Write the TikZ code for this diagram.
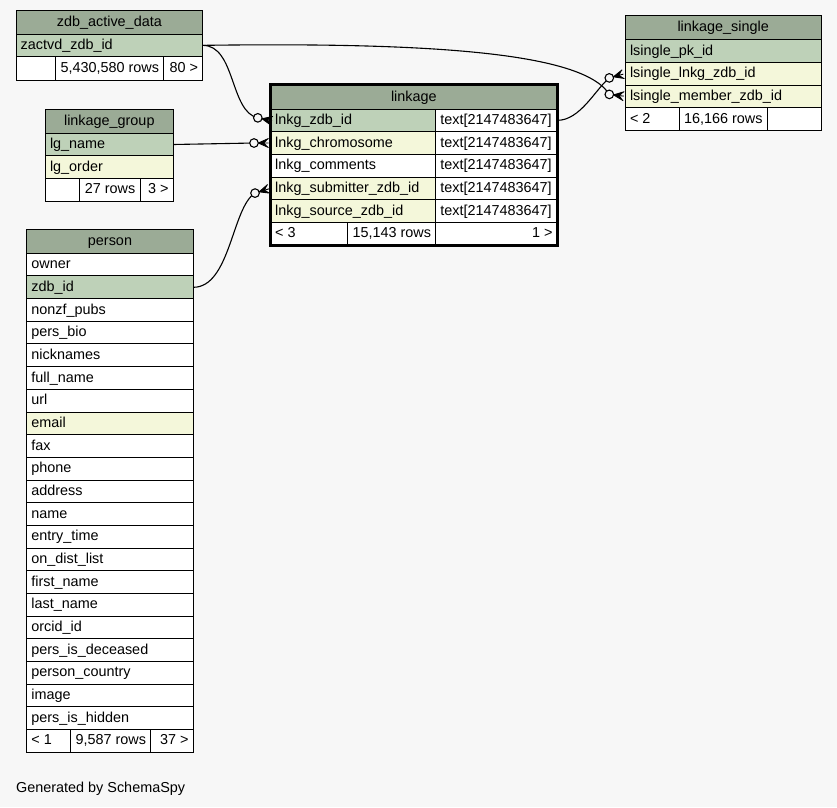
\documentclass[tikz,border=0pt]{standalone}
\usepackage{fontspec}
\setmainfont{Liberation Sans}
\usetikzlibrary{fit}
\definecolor{hdr}{HTML}{9BAB96}
\definecolor{pk}{HTML}{BED1B8}
\definecolor{idx}{HTML}{F4F7DA}
\definecolor{bg}{HTML}{F7F7F7}
\tikzset{
 cellbox/.style={draw=black, line width=1pt, inner sep=0pt, outer sep=0pt},
 txt/.style={font=\fontsize{14.4}{16}\selectfont, text height=10.2pt, text depth=2pt, inner sep=0pt},
 conn/.style={draw=black, line width=1.1pt},
}
\newcommand\cellL[7]{\node[cellbox,fill=#6,fit={(#2,#3)(#4,#5)}] (#1) {};
  \node[txt,anchor=west] at ([xshift=4.5pt]#1.west) {#7};}
\newcommand\cellC[7]{\node[cellbox,fill=#6,fit={(#2,#3)(#4,#5)}] (#1) {};
  \node[txt] at (#1.center) {#7};}
\newcommand\cellR[7]{\node[cellbox,fill=#6,fit={(#2,#3)(#4,#5)}] (#1) {};
  \node[txt,anchor=east] at ([xshift=-4.5pt]#1.east) {#7};}
\newcommand\crowend[3]{%
  \begin{scope}[shift={#2}, rotate=#3]
    \coordinate (#1) at (-14.5,0);
    \fill (-10.2,0) -- (0,4.5) -- (-4,0) -- (0,-4.5) -- cycle;
    \draw[line width=0.9pt] (-10.2,0) -- (0,0) (-10.2,0) -- (0,4.5) (-10.2,0) -- (0,-4.5);
  \end{scope}}
\begin{document}
\begin{tikzpicture}[x=1pt,y=-1pt]
\fill[bg] (0,0) rectangle (837,807);
\useasboundingbox (0,0) rectangle (837,807);

% zdb_active_data
\cellC{zadh}{16}{10.7}{202.7}{34}{hdr}{zdb\_active\_data}
\cellL{zad1}{16}{34}{202.7}{56.7}{pk}{zactvd\_zdb\_id}
\cellL{zadf1}{16}{56.7}{55.7}{80}{white}{}
\cellR{zadf2}{55.7}{56.7}{163.7}{80}{white}{5,430,580 rows}
\cellR{zadf3}{163.7}{56.7}{202.7}{80}{white}{80 >}

% linkage_group
\cellC{lgh}{45.3}{109}{173.3}{133.3}{hdr}{linkage\_group}
\cellL{lg1}{45.3}{133.3}{173.3}{155.7}{pk}{lg\_name}
\cellL{lg2}{45.3}{155.7}{173.3}{178.3}{idx}{lg\_order}
\cellL{lgf1}{45.3}{178.3}{79.7}{201}{white}{}
\cellR{lgf2}{79.7}{178.3}{140}{201}{white}{27 rows}
\cellR{lgf3}{140}{178.3}{173.3}{201}{white}{3 >}

% linkage
\cellC{lkh}{270.5}{84.8}{557.2}{109}{hdr}{linkage}
\cellL{lk1}{270.5}{109}{435.7}{131.7}{pk}{lnkg\_zdb\_id}
\cellL{lk1t}{435.7}{109}{557.2}{131.7}{white}{text[2147483647]}
\cellL{lk2}{270.5}{131.7}{435.7}{154.3}{idx}{lnkg\_chromosome}
\cellL{lk2t}{435.7}{131.7}{557.2}{154.3}{white}{text[2147483647]}
\cellL{lk3}{270.5}{154.3}{435.7}{177}{white}{lnkg\_comments}
\cellL{lk3t}{435.7}{154.3}{557.2}{177}{white}{text[2147483647]}
\cellL{lk4}{270.5}{177}{435.7}{199.7}{idx}{lnkg\_submitter\_zdb\_id}
\cellL{lk4t}{435.7}{177}{557.2}{199.7}{white}{text[2147483647]}
\cellL{lk5}{270.5}{199.7}{435.7}{222.3}{idx}{lnkg\_source\_zdb\_id}
\cellL{lk5t}{435.7}{199.7}{557.2}{222.3}{white}{text[2147483647]}
\cellL{lkf1}{270.5}{222.3}{347.7}{245.2}{white}{< 3}
\cellR{lkf2}{347.7}{222.3}{435.7}{245.2}{white}{15,143 rows}
\cellR{lkf3}{435.7}{222.3}{557.2}{245.2}{white}{1 >}
\draw[line width=3pt] (lkh.north west) rectangle (lkf3.south east);

% linkage_single
\cellC{lsh}{625.3}{15}{821}{39.5}{hdr}{linkage\_single}
\cellL{ls1}{625.3}{39.5}{821}{62.3}{pk}{lsingle\_pk\_id}
\cellL{ls2}{625.3}{62.3}{821}{85}{idx}{lsingle\_lnkg\_zdb\_id}
\cellL{ls3}{625.3}{85}{821}{107.7}{idx}{lsingle\_member\_zdb\_id}
\cellL{lsf1}{625.3}{107.7}{679.7}{130.3}{white}{< 2}
\cellR{lsf2}{679.7}{107.7}{767.3}{130.3}{white}{16,166 rows}
\cellR{lsf3}{767.3}{107.7}{821}{130.3}{white}{}

% person
\cellC{ph}{26.7}{229.3}{193.3}{253.3}{hdr}{person}
\foreach \t/\f [count=\i from 0] in {owner/white, zdb\_id/pk, nonzf\_pubs/white,
  pers\_bio/white, nicknames/white, full\_name/white, url/white, email/idx,
  fax/white, phone/white, address/white, name/white, entry\_time/white,
  on\_dist\_list/white, first\_name/white, last\_name/white, orcid\_id/white,
  pers\_is\_deceased/white, person\_country/white, image/white, pers\_is\_hidden/white}{
  \pgfmathsetmacro\ya{253.3+22.67*\i}
  \pgfmathsetmacro\yb{253.3+22.67*(\i+1)}
  \cellL{p\i}{26.7}{\ya}{193.3}{\yb}{\f}{\t}
}
\cellL{pf1}{26.7}{729.4}{70.7}{752}{white}{< 1}
\cellR{pf2}{70.7}{729.4}{150.7}{752}{white}{9,587 rows}
\cellR{pf3}{150.7}{729.4}{193.3}{752}{white}{37 >}

\node[txt,anchor=base west] (gen) at (16,792) {Generated by SchemaSpy};

% crow's feet
\crowend{lk1o}{([shift={(1.5,0.5)}]lk1.west)}{-12}
\crowend{lk2o}{([xshift=-2pt]lk2.west)}{0}
\crowend{lk4o}{([shift={(-1.6,0.5)}]lk4.west)}{17}
\crowend{ls2o}{([shift={(-2,0.5)}]ls2.west)}{15}
\crowend{ls3o}{([shift={(-1.6,-0.2)}]ls3.west)}{-7}

% connectors
\draw[conn] (zad1.east) .. controls +(33,0) and +(-28,-6) .. (lk1o);
\draw[conn] (zad1.east) .. controls +(247,-3.5) and +(-24.3,-39.3) .. (ls3o);
\draw[conn] (lk1t.east) .. controls +(23,0) and +(-14.3,12) .. (ls2o);
\draw[conn] (lg1.east) -- (lk2o);
\draw[conn] (p1.east) .. controls +(37,0) and +(-23,14) .. (lk4o);

\foreach \c in {lk1o,lk2o,lk4o,ls2o,ls3o}
  \draw[line width=1.1pt, fill=bg] (\c) circle[radius=4.3pt];
\end{tikzpicture}
\end{document}
